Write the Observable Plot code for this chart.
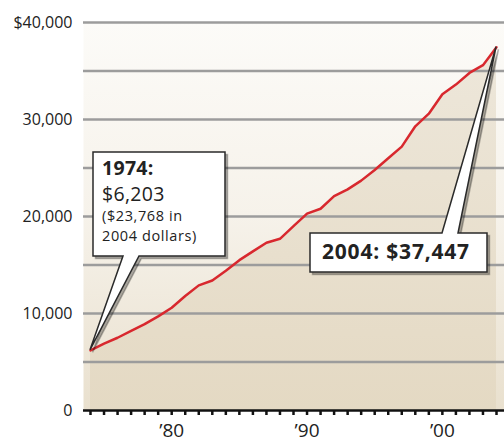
<!DOCTYPE html>
<html>
<head>
<meta charset="utf-8">
<script src="https://cdn.jsdelivr.net/npm/d3@7"></script>
<script src="https://cdn.jsdelivr.net/npm/@observablehq/plot@0.6"></script>
<style>
  html, body { margin: 0; padding: 0; background: #fff; }
  #chart { width: 504px; height: 443px; }
</style>
</head>
<body>
<div id="chart"></div>
<script>
// ---- data ----
const years = [1974,1975,1976,1977,1978,1979,1980,1981,1982,1983,1984,1985,1986,1987,1988,1989,
               1990,1991,1992,1993,1994,1995,1996,1997,1998,1999,2000,2001,2002,2003,2004];
const values = [6203,6900,7500,8200,8900,9700,10600,11800,12900,13400,14400,15500,16400,17300,17700,19000,
                20300,20800,22100,22800,23700,24800,26000,27200,29300,30600,32600,33600,34800,35600,37447];
const yGridValues = [5000,10000,15000,20000,25000,30000,35000,40000];
const yTickValues = [0,10000,20000,30000,40000];
const yTickLabels = ["0","10,000","20,000","30,000","$40,000"];
const xTickYears = [1980,1990,2000];
const xTickLabels = ["\u201980","\u201990","\u201900"];
const callout1Lines = ["1974:", "$6,203", "($23,768 in", "2004 dollars)"];
const callout2Text = "2004: $37,447";

const data = years.map((year, i) => ({year, value: values[i]}));

const chart = Plot.plot({
  width: 504,
  height: 443,
  marginLeft: 83,
  marginRight: 0,
  marginTop: 22,
  marginBottom: 33,
  style: {fontFamily: "'Open Sans', sans-serif", fontSize: "15px", color: "#222", background: "transparent"},
  x: {domain: [1974, 2004], range: [90, 496], label: null},
  y: {domain: [0, 40000], label: null},
  marks: [
    Plot.frame({fill: "url(#bgGrad)", stroke: "none"}),
    Plot.areaY(data, {x: "year", y: "value", fill: "url(#areaGrad)"}),
    Plot.ruleY(yGridValues, {stroke: "#9c9c9c", strokeWidth: 2.5}),
    Plot.lineY(data, {x: "year", y: "value", stroke: "#d8282e", strokeWidth: 2.5}),
    Plot.ruleY([0], {stroke: "#111", strokeWidth: 2.5}),
    Plot.axisX({ticks: years, tickSize: 5, strokeWidth: 2.5, stroke: "#111", tickFormat: () => ""}),
    Plot.axisX({ticks: xTickYears, tickSize: 0, tickPadding: 13, fontSize: 19, fill: "#222",
                tickFormat: d => xTickLabels[xTickYears.indexOf(d)]}),
    Plot.axisY({ticks: yTickValues, tickSize: 0, tickPadding: 11, fontSize: 16, fill: "#222",
                tickFormat: d => yTickLabels[yTickValues.indexOf(d)]})
  ]
});

document.getElementById("chart").appendChild(chart);

const svg = d3.select(chart);
const defs = svg.insert("defs", ":first-child");
const bg = defs.append("linearGradient").attr("id", "bgGrad")
  .attr("gradientUnits", "userSpaceOnUse").attr("x1", 0).attr("x2", 0).attr("y1", 22).attr("y2", 410);
bg.append("stop").attr("offset", 0).attr("stop-color", "#fcfbf8");
bg.append("stop").attr("offset", 0.5).attr("stop-color", "#f6f2ea");
bg.append("stop").attr("offset", 1).attr("stop-color", "#e9e0ce");
const ag = defs.append("linearGradient").attr("id", "areaGrad")
  .attr("gradientUnits", "userSpaceOnUse").attr("x1", 0).attr("x2", 0).attr("y1", 22).attr("y2", 410);
ag.append("stop").attr("offset", 0).attr("stop-color", "#eee8dc");
ag.append("stop").attr("offset", 1).attr("stop-color", "#e4d9c3");

// ---- callouts ----
const sx = chart.scale("x"), sy = chart.scale("y");
const tip1 = [sx.apply(years[0]), sy.apply(values[0])];
const tip2 = [sx.apply(years[years.length - 1]), sy.apply(values[values.length - 1])];

const g = svg.append("g").attr("font-family", "'Open Sans', sans-serif").attr("fill", "#222")
  .attr("text-anchor", "start");

// callout 1 (box with wedge down to 1974 point)
const b1 = {x0: 93, y0: 152, x1: 225, y1: 256, w0: 123, w1: 139};
const p1 = `M${b1.x0},${b1.y0}H${b1.x1}V${b1.y1}H${b1.w1}L${tip1[0]},${tip1[1]}L${b1.w0},${b1.y1}H${b1.x0}Z`;
// callout 2 (box with wedge up to 2004 point)
const b2 = {x0: 310, y0: 233, x1: 487, y1: 272, w0: 442, w1: 458};
const p2 = `M${b2.x0},${b2.y0}H${b2.w0}L${tip2[0]},${tip2[1]}L${b2.w1},${b2.y0}H${b2.x1}V${b2.y1}H${b2.x0}Z`;

for (const p of [p1, p2]) {
  g.append("path").attr("d", p).attr("transform", "translate(2.5,2.5)")
    .attr("fill", "#000").attr("fill-opacity", 0.3).attr("stroke", "#000").attr("stroke-opacity", 0.25).attr("stroke-width", 1.5);
  g.append("path").attr("d", p).attr("fill", "#fff").attr("stroke", "#2a2a2a").attr("stroke-width", 1.5).attr("stroke-linejoin", "miter");
}

const t1 = [
  {text: callout1Lines[0], y: 175, size: 19.5, weight: 700},
  {text: callout1Lines[1], y: 201, size: 19.5, weight: 400},
  {text: callout1Lines[2], y: 221, size: 14.5, weight: 400},
  {text: callout1Lines[3], y: 241, size: 14.5, weight: 400}
];
for (const t of t1) {
  g.append("text").attr("x", 102).attr("y", t.y).attr("font-size", t.size).attr("font-weight", t.weight)
    .attr("text-anchor", "start").attr("letter-spacing", t.size < 18 ? 0.6 : 0.3).text(t.text);
}
g.append("text").attr("x", 322).attr("y", 259).attr("font-size", 21).attr("font-weight", 700)
  .attr("text-anchor", "start").attr("letter-spacing", 0.8).text(callout2Text);
</script>
</body>
</html>
